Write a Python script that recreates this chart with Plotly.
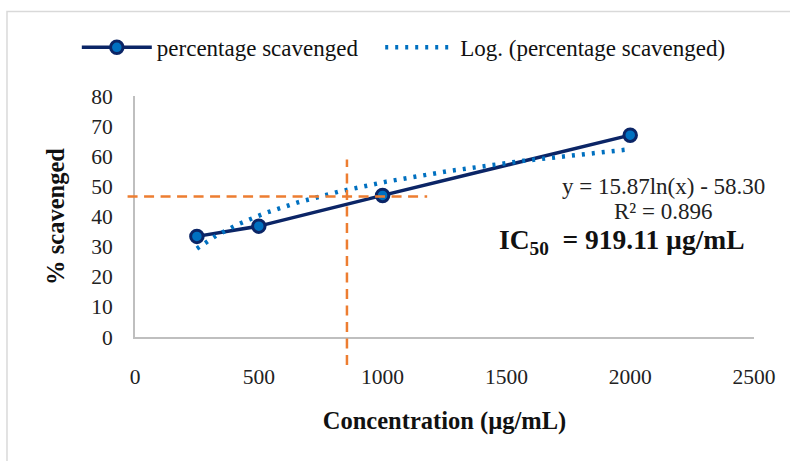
import numpy as np
import plotly.graph_objects as go

# ---- data ----
concentration = [250, 500, 1000, 2000]
percentage_scavenged = [33.4, 36.8, 47.0, 67.0]
log_coef_a = 15.87      # from the displayed trend equation
log_coef_b = -58.30
ic50_guide_x = 856      # vertical orange guide (data x)
ic50_guide_y = 46.6     # horizontal orange guide (data y)
x_ticks = [0, 500, 1000, 1500, 2000, 2500]
y_ticks = [0, 10, 20, 30, 40, 50, 60, 70, 80]
series_names = ["percentage scavenged", "Log. (percentage scavenged)"]

FONT = "Times New Roman, Liberation Serif, serif"
NAVY = "#0B2566"
BLUE = "#0070C0"
ORANGE = "#ED7D31"
NBSP = "\u00a0"

trend_x = np.linspace(min(concentration), max(concentration), 200)
trend_y = log_coef_a * np.log(trend_x) + log_coef_b

fig = go.Figure()
fig.add_trace(go.Scatter(
    x=concentration, y=percentage_scavenged, mode="lines+markers",
    name=series_names[0] + NBSP * 3,
    line=dict(color=NAVY, width=3.5),
    marker=dict(size=12.5, color=BLUE, line=dict(color=NAVY, width=3)),
))
fig.add_trace(go.Scatter(
    x=trend_x, y=trend_y, mode="lines",
    name=series_names[1],
    line=dict(color=BLUE, width=4.5, dash="3px,7px"),
))

# orange guide lines
fig.add_shape(type="line", xref="paper", yref="y",
              x0=-0.012, x1=0.472, y0=ic50_guide_y, y1=ic50_guide_y,
              line=dict(color=ORANGE, width=2.5, dash="10px,6.5px"))
fig.add_shape(type="line", xref="x", yref="paper",
              x0=ic50_guide_x, x1=ic50_guide_x, y0=-0.116, y1=0.736,
              line=dict(color=ORANGE, width=2.5, dash="10px,6.5px"))

# chart-area border (only left/top visible)
fig.add_shape(type="rect", xref="paper", yref="paper",
              x0=-0.2068, x1=1.3, y0=-1.0, y1=1.351,
              line=dict(color="#D9D9D9", width=1.5), layer="below")

fig.add_annotation(xref="paper", yref="paper", x=0.853, y=0.6237,
                   xanchor="center", yanchor="middle",
                   text="y = 15.87ln(x) - 58.30", showarrow=False,
                   font=dict(family=FONT, size=23, color="#222"))
fig.add_annotation(xref="paper", yref="paper", x=0.853, y=0.52,
                   xanchor="center", yanchor="middle",
                   text="R² = 0.896", showarrow=False,
                   font=dict(family=FONT, size=23, color="#222"))
fig.add_annotation(xref="paper", yref="paper", x=0.787, y=0.395,
                   xanchor="center", yanchor="middle",
                   text="<b>IC<sub>50</sub>  = 919.11 µg/mL</b>", showarrow=False,
                   font=dict(family=FONT, size=27.5, color="#111"))

fig.update_layout(
    width=790, height=461,
    margin=dict(l=135, r=36, t=96, b=124),
    paper_bgcolor="white", plot_bgcolor="white",
    font=dict(family=FONT, size=21.5, color="#222"),
    showlegend=True,
    legend=dict(orientation="h", x=-0.094, xanchor="left", y=1.2017, yanchor="middle",
                font=dict(family=FONT, size=23, color="#111"), itemwidth=70,
                bgcolor="rgba(0,0,0,0)"),
    xaxis=dict(range=[0, 2500], tickvals=x_ticks, ticktext=[str(v) for v in x_ticks],
               showgrid=False, zeroline=False, showline=True, linecolor="#BFBFBF", linewidth=2,
               ticks="", ticklabelstandoff=19,
               title=dict(text="<b>Concentration (µg/mL)</b>", standoff=24,
                          font=dict(family=FONT, size=24.5, color="#111"))),
    yaxis=dict(range=[0, 80], tickvals=y_ticks, ticktext=[str(v) for v in y_ticks],
               showgrid=False, zeroline=False, showline=True, linecolor="#BFBFBF", linewidth=2,
               ticks="", ticklabelstandoff=16,
               title=dict(text="<b>% scavenged</b>", standoff=20,
                          font=dict(family=FONT, size=24.5, color="#111"))),
)

fig.write_html("out.html", config={"displayModeBar": False},
               post_script="document.body.style.margin='0';")
